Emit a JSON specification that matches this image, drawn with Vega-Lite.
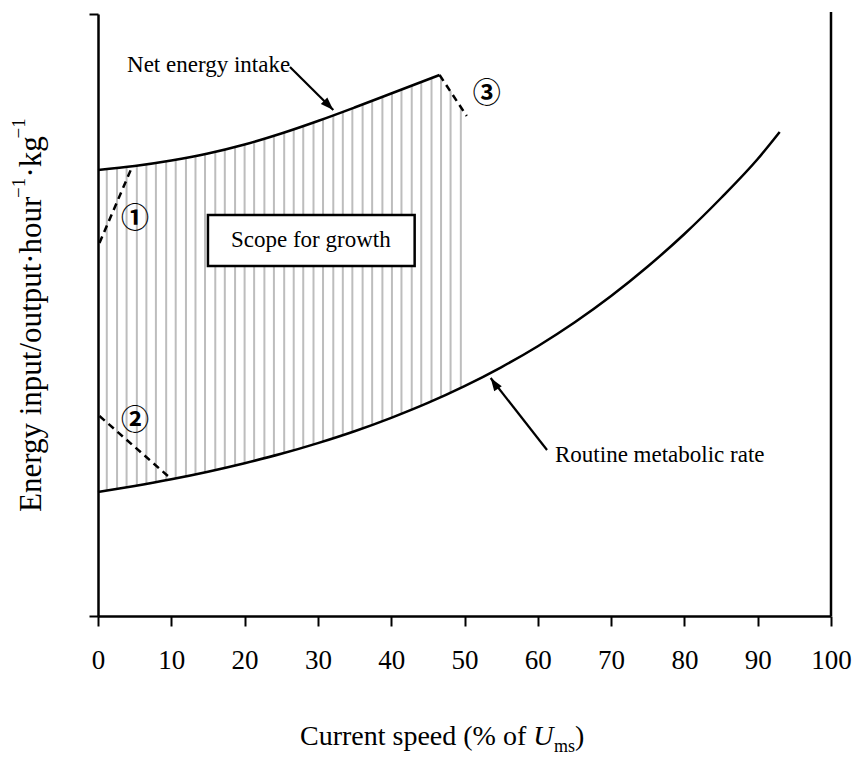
{
  "$schema": "https://vega.github.io/schema/vega-lite/v6.json",
  "width": 733,
  "height": 602,
  "autosize": {"type": "none"},
  "padding": {"left": 98, "top": 14, "right": 26, "bottom": 142},
  "background": "white",
  "config": {"view": {"stroke": null}},
  "datasets": {
    "hatch": [
      {"x": 1.2, "lo": 125, "hi": 447}, {"x": 2.6, "lo": 127, "hi": 448}, {"x": 3.9, "lo": 129, "hi": 449},
      {"x": 5.3, "lo": 130, "hi": 450}, {"x": 6.6, "lo": 132, "hi": 452}, {"x": 7.9, "lo": 134, "hi": 453},
      {"x": 9.3, "lo": 136, "hi": 455}, {"x": 10.6, "lo": 138, "hi": 456}, {"x": 12.0, "lo": 140, "hi": 458},
      {"x": 13.3, "lo": 142, "hi": 460}, {"x": 14.6, "lo": 144, "hi": 462}, {"x": 16.0, "lo": 146, "hi": 464},
      {"x": 17.3, "lo": 148, "hi": 467}, {"x": 18.7, "lo": 151, "hi": 469}, {"x": 20.0, "lo": 153, "hi": 471},
      {"x": 21.3, "lo": 155, "hi": 474}, {"x": 22.7, "lo": 158, "hi": 477}, {"x": 24.0, "lo": 160, "hi": 480},
      {"x": 25.4, "lo": 163, "hi": 483}, {"x": 26.7, "lo": 166, "hi": 487}, {"x": 28.0, "lo": 169, "hi": 490},
      {"x": 29.4, "lo": 172, "hi": 493}, {"x": 30.7, "lo": 175, "hi": 497}, {"x": 32.1, "lo": 178, "hi": 501},
      {"x": 33.4, "lo": 181, "hi": 504}, {"x": 34.7, "lo": 184, "hi": 508}, {"x": 36.1, "lo": 188, "hi": 512},
      {"x": 37.4, "lo": 191, "hi": 515}, {"x": 38.8, "lo": 195, "hi": 519}, {"x": 40.1, "lo": 199, "hi": 523},
      {"x": 41.4, "lo": 202, "hi": 526}, {"x": 42.8, "lo": 207, "hi": 530}, {"x": 44.1, "lo": 210, "hi": 534},
      {"x": 45.5, "lo": 215, "hi": 538}, {"x": 46.8, "lo": 219, "hi": 539}, {"x": 48.1, "lo": 224, "hi": 525},
      {"x": 49.5, "lo": 228, "hi": 509}
    ],
    "curves": [
      {"series": "Net energy intake", "x": 0, "y": 446}, {"series": "Net energy intake", "x": 5, "y": 450},
      {"series": "Net energy intake", "x": 10, "y": 455.5}, {"series": "Net energy intake", "x": 15, "y": 462.5},
      {"series": "Net energy intake", "x": 20, "y": 471.5}, {"series": "Net energy intake", "x": 25, "y": 482.5},
      {"series": "Net energy intake", "x": 30, "y": 495}, {"series": "Net energy intake", "x": 35, "y": 508.5},
      {"series": "Net energy intake", "x": 40, "y": 522.5}, {"series": "Net energy intake", "x": 46.6, "y": 541},
      {"series": "Routine metabolic rate", "x": 0, "y": 124}, {"series": "Routine metabolic rate", "x": 5, "y": 130},
      {"series": "Routine metabolic rate", "x": 10, "y": 136.7}, {"series": "Routine metabolic rate", "x": 15, "y": 144.3},
      {"series": "Routine metabolic rate", "x": 20, "y": 152.8}, {"series": "Routine metabolic rate", "x": 25, "y": 162.2},
      {"series": "Routine metabolic rate", "x": 30, "y": 172.9}, {"series": "Routine metabolic rate", "x": 35, "y": 184.8},
      {"series": "Routine metabolic rate", "x": 40, "y": 198.2}, {"series": "Routine metabolic rate", "x": 45, "y": 213.1},
      {"series": "Routine metabolic rate", "x": 50, "y": 229.9}, {"series": "Routine metabolic rate", "x": 55, "y": 248.7},
      {"series": "Routine metabolic rate", "x": 60, "y": 269.8}, {"series": "Routine metabolic rate", "x": 65, "y": 293.5},
      {"series": "Routine metabolic rate", "x": 70, "y": 320}, {"series": "Routine metabolic rate", "x": 75, "y": 349.5},
      {"series": "Routine metabolic rate", "x": 80, "y": 382}, {"series": "Routine metabolic rate", "x": 85, "y": 418},
      {"series": "Routine metabolic rate", "x": 90, "y": 457}, {"series": "Routine metabolic rate", "x": 93, "y": 484}
    ],
    "dashes": [
      {"id": "1", "x": 0.2, "y": 373}, {"id": "1", "x": 4.7, "y": 450},
      {"id": "2", "x": 0.2, "y": 200}, {"id": "2", "x": 10, "y": 137},
      {"id": "3", "x": 46.6, "y": 541}, {"id": "3", "x": 50.3, "y": 500}
    ],
    "arrows": [
      {"id": "net", "x": 26.19, "y": 549}, {"id": "net", "x": 32.1, "y": 506},
      {"id": "rmr", "x": 61.26, "y": 166}, {"id": "rmr", "x": 53.57, "y": 238}
    ],
    "box": [{"x": 15.0, "x2": 43.2, "y": 350, "y2": 401}],
    "frame": [{"x": 100, "y": 0, "y2": 604}],
    "labels": [
      {"x": 3.96, "y": 544, "text": "Net energy intake"},
      {"x": 18.14, "y": 369, "text": "Scope for growth"},
      {"x": 62.35, "y": 154, "text": "Routine metabolic rate"}
    ],
    "marks": [
      {"x": 5.05, "y": 396, "text": "①"},
      {"x": 5.05, "y": 194, "text": "②"},
      {"x": 53.03, "y": 521, "text": "③"}
    ]
  },
  "layer": [
    {
      "data": {"name": "hatch"},
      "mark": {"type": "rule", "color": "#bdbdbd", "strokeWidth": 2},
      "encoding": {
        "x": {"field": "x", "type": "quantitative",
              "scale": {"domain": [0, 100], "nice": false, "zero": false},
              "axis": {"values": [0, 10, 20, 30, 40, 50, 60, 70, 80, 90, 100], "title": null, "grid": false,
                       "tickSize": 10, "tickWidth": 2, "tickColor": "black", "domainColor": "black", "domainWidth": 2.5,
                       "labelFont": "Liberation Serif", "labelFontSize": 27, "labelColor": "black",
                       "labelBaseline": "alphabetic", "labelPadding": 42, "labelFlush": false, "labelOverlap": false}},
        "y": {"field": "lo", "type": "quantitative",
              "scale": {"domain": [0, 602], "nice": false, "zero": false},
              "axis": {"values": [0, 602], "title": null, "labels": false, "grid": false,
                       "tickSize": 9, "tickWidth": 2, "tickColor": "black", "domainColor": "black", "domainWidth": 2.5}},
        "y2": {"field": "hi"}
      }
    },
    {
      "data": {"name": "curves"},
      "mark": {"type": "line", "color": "black", "strokeWidth": 2.5, "interpolate": "monotone"},
      "encoding": {
        "x": {"field": "x", "type": "quantitative"},
        "y": {"field": "y", "type": "quantitative"},
        "detail": {"field": "series"}
      }
    },
    {
      "data": {"name": "dashes"},
      "mark": {"type": "line", "color": "black", "strokeWidth": 2.5, "strokeDash": [7, 5]},
      "encoding": {
        "x": {"field": "x", "type": "quantitative"},
        "y": {"field": "y", "type": "quantitative"},
        "detail": {"field": "id"}
      }
    },
    {
      "data": {"name": "box"},
      "mark": {"type": "rect", "fill": "white", "stroke": "black", "strokeWidth": 2.5},
      "encoding": {
        "x": {"field": "x", "type": "quantitative"},
        "x2": {"field": "x2"},
        "y": {"field": "y", "type": "quantitative"},
        "y2": {"field": "y2"}
      }
    },
    {
      "data": {"name": "frame"},
      "mark": {"type": "rule", "color": "black", "strokeWidth": 2.5},
      "encoding": {
        "x": {"field": "x", "type": "quantitative"},
        "y": {"field": "y", "type": "quantitative"},
        "y2": {"field": "y2"}
      }
    },
    {
      "data": {"name": "arrows"},
      "mark": {"type": "line", "color": "black", "strokeWidth": 2.2},
      "encoding": {
        "x": {"field": "x", "type": "quantitative"},
        "y": {"field": "y", "type": "quantitative"},
        "detail": {"field": "id"}
      }
    },
    {
      "data": {"values": [{"x": 32.1, "y": 506}]},
      "mark": {"type": "point", "shape": "M0,0L-0.7,2L0.7,2Z", "size": 170, "filled": true, "color": "black", "opacity": 1, "angle": 135},
      "encoding": {
        "x": {"field": "x", "type": "quantitative"},
        "y": {"field": "y", "type": "quantitative"}
      }
    },
    {
      "data": {"values": [{"x": 53.57, "y": 238}]},
      "mark": {"type": "point", "shape": "M0,0L-0.7,2L0.7,2Z", "size": 170, "filled": true, "color": "black", "opacity": 1, "angle": 325.8},
      "encoding": {
        "x": {"field": "x", "type": "quantitative"},
        "y": {"field": "y", "type": "quantitative"}
      }
    },
    {
      "data": {"name": "labels"},
      "mark": {"type": "text", "font": "Liberation Serif", "fontSize": 23, "align": "left", "baseline": "alphabetic", "color": "black"},
      "encoding": {
        "x": {"field": "x", "type": "quantitative"},
        "y": {"field": "y", "type": "quantitative"},
        "text": {"field": "text"}
      }
    },
    {
      "data": {"name": "marks"},
      "mark": {"type": "text", "font": "Noto Sans CJK JP", "fontSize": 28, "fontWeight": "bold", "align": "center", "baseline": "middle", "color": "black"},
      "encoding": {
        "x": {"field": "x", "type": "quantitative"},
        "y": {"field": "y", "type": "quantitative"},
        "text": {"field": "text"}
      }
    },
    {
      "data": {"values": [
        {"x": 27.56, "y": -129, "text": "Current speed (% of"},
        {"x": 65.08, "y": -129, "text": ")"}
      ]},
      "mark": {"type": "text", "font": "Liberation Serif", "fontSize": 28, "align": "left", "baseline": "alphabetic", "color": "black"},
      "encoding": {
        "x": {"field": "x", "type": "quantitative"},
        "y": {"field": "y", "type": "quantitative"},
        "text": {"field": "text"}
      }
    },
    {
      "data": {"values": [{"x": 59.39, "y": -129, "text": "U"}]},
      "mark": {"type": "text", "font": "Liberation Serif", "fontSize": 28, "fontStyle": "italic", "align": "left", "baseline": "alphabetic", "color": "black"},
      "encoding": {
        "x": {"field": "x", "type": "quantitative"},
        "y": {"field": "y", "type": "quantitative"},
        "text": {"field": "text"}
      }
    },
    {
      "data": {"values": [{"x": 62.21, "y": -136, "text": "ms"}]},
      "mark": {"type": "text", "font": "Liberation Serif", "fontSize": 18, "align": "left", "baseline": "alphabetic", "color": "black"},
      "encoding": {
        "x": {"field": "x", "type": "quantitative"},
        "y": {"field": "y", "type": "quantitative"},
        "text": {"field": "text"}
      }
    },
    {
      "data": {"values": [
        {"x": -7.78, "y": 104, "text": "Energy input/output·hour"},
        {"x": -7.78, "y": 438.4, "text": "·kg"}
      ]},
      "mark": {"type": "text", "font": "Liberation Serif", "fontSize": 31, "angle": 270, "align": "left", "baseline": "alphabetic", "color": "black"},
      "encoding": {
        "x": {"field": "x", "type": "quantitative"},
        "y": {"field": "y", "type": "quantitative"},
        "text": {"field": "text"}
      }
    },
    {
      "data": {"values": [
        {"x": -9.96, "y": 418, "text": "−1"},
        {"x": -9.96, "y": 477.5, "text": "−1"}
      ]},
      "mark": {"type": "text", "font": "Liberation Serif", "fontSize": 19, "angle": 270, "align": "left", "baseline": "alphabetic", "color": "black"},
      "encoding": {
        "x": {"field": "x", "type": "quantitative"},
        "y": {"field": "y", "type": "quantitative"},
        "text": {"field": "text"}
      }
    }
  ]
}
